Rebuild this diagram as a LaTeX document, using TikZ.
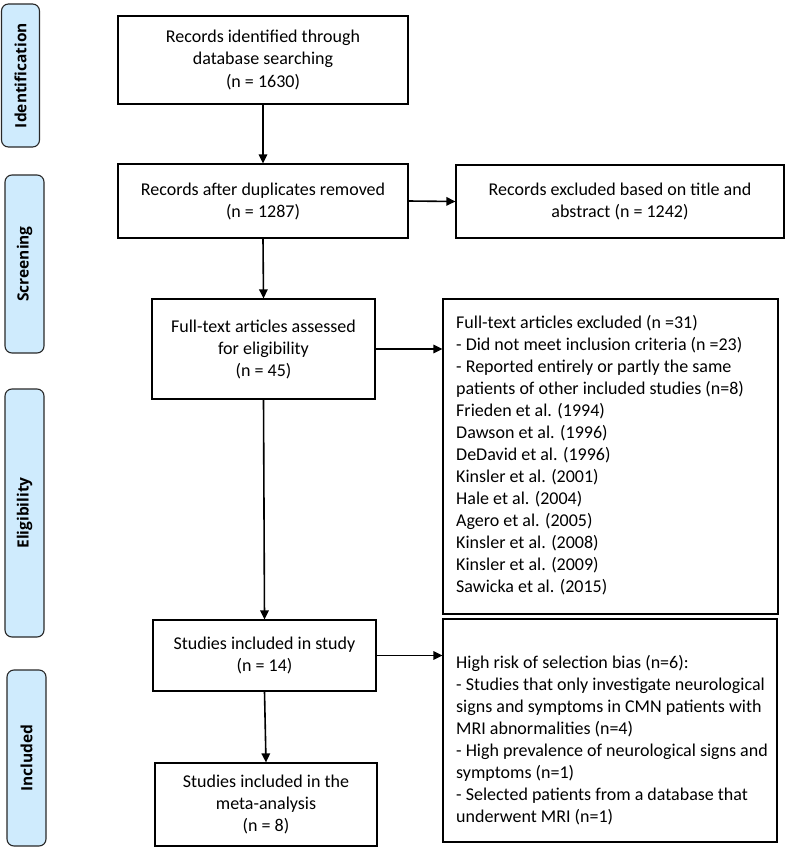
\documentclass[tikz,border=0pt]{standalone}
\usepackage{fontspec}
\setmainfont{Carlito}
\newfontfamily\labelfont{Open Sans}
\usetikzlibrary{arrows.meta}
\definecolor{phasefill}{RGB}{207,235,253}
\definecolor{phaseline}{RGB}{40,40,40}
\begin{document}
\begin{tikzpicture}[x=1pt,y=-1pt,
  box/.style={draw=black,line width=1.2pt,inner sep=0pt,align=center,
    font=\fontsize{18}{22}\selectfont},
  txt/.style={inner sep=0pt,align=left,font=\fontsize{18}{22}\selectfont},
  phase/.style={draw=phaseline,fill=phasefill,line width=1.1pt,rounded corners=7pt,
    rotate=90,inner sep=0pt,font=\labelfont\bfseries\fontsize{15.5}{18}\selectfont},
  arr/.style={line width=1.6pt,-{Triangle[length=9pt,width=8.5pt]}}]
\useasboundingbox (0,0) rectangle (800,856);
% phase labels
\node[phase,minimum width=143pt,minimum height=38pt] (pid) at (20.5,75.5) {Identification};
\node[phase,minimum width=178pt,minimum height=39pt] (psc) at (24.5,264) {Screening};
\node[phase,minimum width=248pt,minimum height=39pt] (pel) at (24.5,513) {Eligibility};
\node[phase,minimum width=176pt,minimum height=39pt] (pin) at (26.5,758) {Included};
% boxes
\node[box,minimum width=290pt,minimum height=88pt] (b1) at (263,60)
  {Records identified through\\database searching\\(n = 1630)};
\node[box,minimum width=290pt,minimum height=74pt] (b2) at (263,201)
  {Records after duplicates removed\\(n = 1287)};
\node[box,minimum width=328pt,minimum height=73pt] (b3) at (620,201.5)
  {Records excluded based on title and\\abstract (n = 1242)};
\node[box,minimum width=223pt,minimum height=100pt] (b4) at (263.5,349)
  {Full-text articles assessed\\for eligibility\\(n = 45)};
\node[box,minimum width=335pt,minimum height=315pt] (b5) at (610.5,456.5) {};
\node[txt,anchor=west] (b5t) at (456,455)
  {Full-text articles excluded (n =31)\\
   - Did not meet inclusion criteria (n =23)\\
   - Reported entirely or partly the same\\
   patients of other included studies (n=8)\\
   Frieden et al. (1994)\\
   Dawson et al. (1996)\\
   DeDavid et al. (1996)\\
   Kinsler et al. (2001)\\
   Hale et al. (2004)\\
   Agero et al. (2005)\\
   Kinsler et al. (2008)\\
   Kinsler et al. (2009)\\
   Sawicka et al. (2015)};
\node[box,minimum width=223pt,minimum height=71pt] (b6) at (264.5,655.5)
  {Studies included in study\\(n = 14)};
\node[box,minimum width=334pt,minimum height=223pt] (b7) at (610,730.5) {};
\node[txt,anchor=north west] (b7t) at (456,655)
  {High risk of selection bias (n=6):\\
   - Studies that only investigate neurological\\
   signs and symptoms in CMN patients with\\
   MRI abnormalities (n=4)\\
   - High prevalence of neurological signs and\\
   symptoms (n=1)\\
   - Selected patients from a database that\\
   underwent MRI (n=1)};
\node[box,minimum width=222pt,minimum height=83pt] (b8) at (266,804.5)
  {Studies included in the\\meta-analysis\\(n = 8)};
% arrows
\draw[arr] (b1) -- (b2);
\draw[arr] (b2.east) -- (b3.west);
\draw[arr] (b2.south) -- (b4.north);
\draw[arr] (b4.east) -- (b4.east -| b5.west);
\draw[arr] (b4.south) -- (b6.north);
\draw[arr] (b6.east) -- (b6.east -| b7.west);
\draw[arr] (b6.south) -- (b8.north);
\end{tikzpicture}
\end{document}
